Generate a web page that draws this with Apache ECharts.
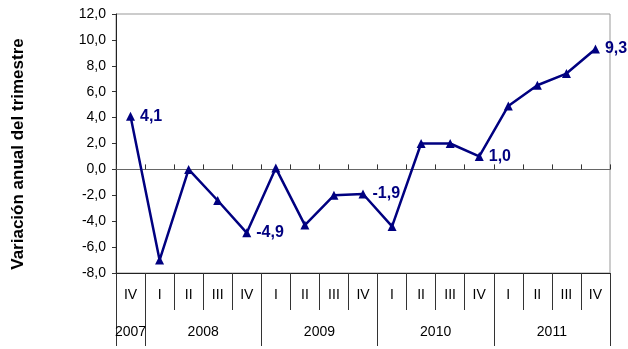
<!DOCTYPE html>
<html>
<head>
<meta charset="utf-8">
<style>
html,body{margin:0;padding:0;background:#fff;}
#chart{width:628px;height:349px;}
</style>
<script src="https://cdn.jsdelivr.net/npm/echarts@6/dist/echarts.min.js"></script>
</head>
<body>
<div id="chart"></div>
<script>
// ---- data ----
const quarters = ['IV','I','II','III','IV','I','II','III','IV','I','II','III','IV','I','II','III','IV'];
const years = ['2007','2008','2009','2010','2011'];
const quartersPerYear = [1,4,4,4,4];
const values = [4.1,-7.0,0.0,-2.4,-4.9,0.1,-4.3,-2.0,-1.9,-4.4,2.0,2.0,1.0,4.9,6.5,7.4,9.3];
const labelledIdx = [0,4,8,12,16];
const yTicks = [-8,-6,-4,-2,0,2,4,6,8,10,12];
const yTitle = 'Variación anual del trimestre';

const FONT = "'Liberation Sans', Arial, sans-serif";
const fmt = v => Number(v).toFixed(1).replace('.', ',');

// year separators & label centres derived from quarter counts
const yearBounds = [0];
quartersPerYear.forEach(n => yearBounds.push(yearBounds[yearBounds.length-1] + n));
const yearCenters = years.map((y,i) => (yearBounds[i] + yearBounds[i+1]) / 2);

const chart = echarts.init(document.getElementById('chart'), null, {renderer:'canvas'});
chart.setOption({
  animation: false,
  backgroundColor: '#fff',
  grid: {left:116, right:18, top:14, bottom:76, show:true, borderColor:'#999', borderWidth:1, backgroundColor:'transparent'},
  graphic: [{
    type: 'text', x: 18, y: 154, rotation: Math.PI/2,
    style: {text: yTitle, font: 'bold 17px ' + FONT, fill: '#000', align: 'center', verticalAlign: 'middle'}
  }],
  xAxis: [
    { type:'category', data: quarters, boundaryGap:true,
      axisLine:{onZero:true, lineStyle:{color:'#666', width:1}},
      axisTick:{show:true, inside:true, length:5, interval:0, lineStyle:{color:'#333'}},
      axisLabel:{show:false}, splitLine:{show:false} },
    { type:'category', data: quarters, boundaryGap:true, position:'bottom',
      axisLine:{onZero:false, lineStyle:{color:'#222', width:1}},
      axisTick:{show:true, length:37, interval:0, lineStyle:{color:'#333'}},
      axisLabel:{show:true, interval:0, margin:15, fontFamily:FONT, fontSize:14, color:'#000'},
      splitLine:{show:false} },
    { type:'value', min:0, max: yearBounds[yearBounds.length-1], position:'bottom', offset:37,
      axisLine:{show:false, onZero:false},
      axisTick:{show:true, length:36, customValues: yearBounds, lineStyle:{color:'#333'}},
      axisLabel:{show:true, margin:15, customValues: yearCenters, fontFamily:FONT, fontSize:14, color:'#000',
        formatter: v => { const i = yearCenters.indexOf(v); return i >= 0 ? years[i] : ''; } },
      splitLine:{show:false} }
  ],
  yAxis: {
    type:'value', min: yTicks[0], max: yTicks[yTicks.length-1], interval: 2,
    axisLine:{show:true, onZero:false, lineStyle:{color:'#222', width:1}},
    axisTick:{show:true, length:4, lineStyle:{color:'#333'}},
    axisLabel:{margin:10, fontFamily:FONT, fontSize:14, color:'#000', formatter: fmt},
    splitLine:{show:false}
  },
  series: [{
    type:'line', xAxisIndex:0, yAxisIndex:0,
    data: values.map((v,i) => labelledIdx.includes(i)
      ? {value:v, label:{show:true}} : v),
    symbol:'triangle', symbolSize:9, showAllSymbol:true,
    lineStyle:{color:'#000080', width:2.5},
    itemStyle:{color:'#000080'},
    label:{show:false, position:'right', distance:5, formatter: p => fmt(p.value),
      fontFamily:FONT, fontSize:16, fontWeight:'bold', color:'#000080'},
    z: 5
  }]
});
</script>
</body>
</html>
